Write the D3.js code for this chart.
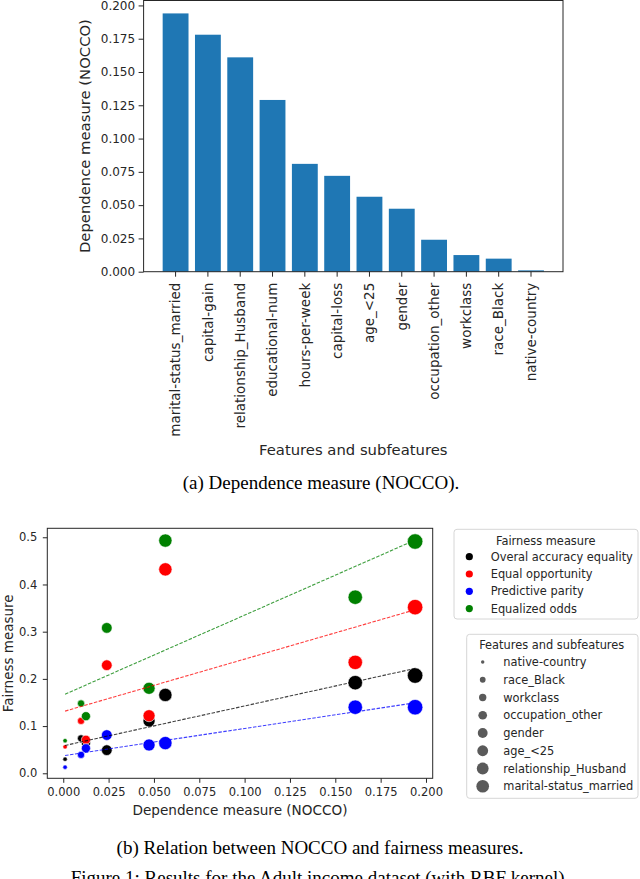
<!DOCTYPE html>
<html><head><meta charset="utf-8">
<script src="https://cdn.jsdelivr.net/npm/d3@7"></script>
<style>body{margin:0;background:#fff} svg{display:block}</style>
</head><body>
<svg id="c" width="640" height="879"></svg>
<script>
// ---------- data ----------
const features = ["marital-status_married","capital-gain","relationship_Husband","educational-num","hours-per-week","capital-loss","age_<25","gender","occupation_other","workclass","race_Black","native-country"];
const nocco = [0.194,0.178,0.161,0.129,0.081,0.072,0.0563,0.0473,0.024,0.0125,0.0098,0.001];
const barTicks = [0,0.025,0.05,0.075,0.1,0.125,0.15,0.175,0.2];

const scatterFeatures = ["native-country","race_Black","workclass","occupation_other","gender","age_<25","relationship_Husband","marital-status_married"];
const scatterX = [0.001,0.0098,0.0125,0.024,0.0473,0.0563,0.161,0.194];
const measures = ["Overal accuracy equality","Equal opportunity","Predictive parity","Equalized odds"];
const accEq   = [0.030,0.074,0.064,0.049,0.111,0.166,0.192,0.207];
const eqOpp   = [0.056,0.111,0.071,0.229,0.122,0.432,0.235,0.352];
const predPar = [0.013,0.039,0.053,0.081,0.060,0.064,0.140,0.140];
const eqOdds  = [0.069,0.148,0.121,0.308,0.180,0.493,0.373,0.491];
const scatterXTicks = [0,0.025,0.05,0.075,0.1,0.125,0.15,0.175,0.2];
const scatterYTicks = [0,0.1,0.2,0.3,0.4,0.5];

const measureColors = ["#000000","#ff0000","#0000ff","#008000"];
const series = [accEq, eqOpp, predPar, eqOdds];

const svg = d3.select("#c");
const SANS = "DejaVu Sans";
const SERIF = "Liberation Serif";

// ---------- (a) bar chart ----------
const bL = 143.6, bR = 563, bT = 0.5, bB = 271.7;
const xb = d3.scaleBand().domain(features).range([bL, bR]).paddingInner(0.2).paddingOuter(0.59);
const yb = d3.scaleLinear().domain([0, 0.2037]).range([bB, bT]);

const gA = svg.append("g");
gA.selectAll("rect.bar").data(features).join("rect")
  .attr("class","bar")
  .attr("x", d => xb(d)).attr("width", xb.bandwidth())
  .attr("y", (d,i) => yb(nocco[i])).attr("height", (d,i) => yb(0) - yb(nocco[i]))
  .attr("fill", "#1f77b4");

const yAxA = gA.append("g").attr("transform", `translate(${bL},0)`)
  .call(d3.axisLeft(yb).tickValues(barTicks).tickFormat(d3.format(".3f")).tickSize(5).tickPadding(3.5));
yAxA.select(".domain").remove();
yAxA.selectAll("text").attr("font-family", SANS).attr("font-size", 12).attr("fill","#262626");
yAxA.selectAll("line").attr("stroke","#262626");

const xAxA = gA.append("g").attr("transform", `translate(0,${bB})`)
  .call(d3.axisBottom(xb).tickSize(5).tickPadding(0));
xAxA.select(".domain").remove();
xAxA.selectAll("line").attr("stroke","#262626");
xAxA.selectAll("text")
  .attr("font-family", SANS).attr("font-size", 13.5).attr("fill","#262626")
  .attr("transform","rotate(-90)")
  .attr("text-anchor","end")
  .attr("x", -11).attr("y", 0).attr("dy","0.35em");

gA.append("rect").attr("x", bL).attr("y", bT).attr("width", bR-bL).attr("height", bB-bT)
  .attr("fill","none").attr("stroke","#262626").attr("stroke-width",1);

gA.append("text").attr("transform", `translate(84,${(bT+bB)/2}) rotate(-90)`)
  .attr("text-anchor","middle").attr("dominant-baseline","central")
  .attr("font-family", SANS).attr("font-size", 14.8).attr("fill","#262626")
  .text("Dependence measure (NOCCO)");
gA.append("text").attr("x", (bL+bR)/2).attr("y", 455)
  .attr("text-anchor","middle").attr("font-family", SANS).attr("font-size", 14.8).attr("fill","#262626")
  .text("Features and subfeatures");

svg.append("text").attr("x", 321).attr("y", 489).attr("text-anchor","middle")
  .attr("font-family", SERIF).attr("font-size", 19).attr("fill","#000")
  .text("(a) Dependence measure (NOCCO).");

// ---------- (b) scatter ----------
const sL = 47.3, sR = 432.7, sT = 528.3, sB = 778.3;
const xs = d3.scaleLinear().domain([-0.0088, 0.2037]).range([sL, sR]);
const ys = d3.scaleLinear().domain([-0.0106, 0.519]).range([sB, sT]);
const plotR = d3.scaleLinear().domain([0, scatterFeatures.length-1]).range([5, 60]);   // area
const legR  = d3.scaleLinear().domain([0, scatterFeatures.length-1]).range([3, 40]);   // area

const gB = svg.append("g");
const xAxB = gB.append("g").attr("transform", `translate(0,${sB})`)
  .call(d3.axisBottom(xs).tickValues(scatterXTicks).tickFormat(d3.format(".3f")).tickSize(4.5).tickPadding(5));
xAxB.select(".domain").remove();
const yAxB = gB.append("g").attr("transform", `translate(${sL},0)`)
  .call(d3.axisLeft(ys).tickValues(scatterYTicks).tickFormat(d3.format(".1f")).tickSize(4.5).tickPadding(5.5));
yAxB.select(".domain").remove();
[xAxB, yAxB].forEach(a => {
  a.selectAll("text").attr("font-family", SANS).attr("font-size", 11.5).attr("fill","#262626");
  a.selectAll("line").attr("stroke","#262626");
});

// points
measures.forEach((m, k) => {
  gB.append("g").selectAll("circle").data(scatterX).join("circle")
    .attr("cx", d => xs(d)).attr("cy", (d,i) => ys(series[k][i]))
    .attr("r", (d,i) => Math.sqrt(plotR(i)))
    .attr("fill", measureColors[k]).attr("stroke","#fff").attr("stroke-width",0.6);
});

// regression lines (least squares on each series)
measures.forEach((m, k) => {
  const ys_ = series[k];
  const mx = d3.mean(scatterX), my = d3.mean(ys_);
  const sxy = d3.sum(scatterX, (x,i) => (x-mx)*(ys_[i]-my));
  const sxx = d3.sum(scatterX, x => (x-mx)*(x-mx));
  const slope = sxy/sxx, icpt = my - slope*mx;
  const x0 = d3.min(scatterX), x1 = d3.max(scatterX);
  gB.append("line")
    .attr("x1", xs(x0)).attr("y1", ys(icpt + slope*x0))
    .attr("x2", xs(x1)).attr("y2", ys(icpt + slope*x1))
    .attr("stroke", measureColors[k]).attr("stroke-width", 1.1)
    .attr("stroke-dasharray","3.5,1.5").attr("opacity",0.75);
});

gB.append("rect").attr("x", sL).attr("y", sT).attr("width", sR-sL).attr("height", sB-sT)
  .attr("fill","none").attr("stroke","#262626").attr("stroke-width",1);

gB.append("text").attr("transform", `translate(8,${(sT+sB)/2}) rotate(-90)`)
  .attr("text-anchor","middle").attr("dominant-baseline","central")
  .attr("font-family", SANS).attr("font-size", 13.5).attr("fill","#262626")
  .text("Fairness measure");
gB.append("text").attr("x", (sL+sR)/2).attr("y", 815)
  .attr("text-anchor","middle").attr("font-family", SANS).attr("font-size", 13.6).attr("fill","#262626")
  .text("Dependence measure (NOCCO)");

// legend 1
const L1 = svg.append("g");
L1.append("rect").attr("x",454).attr("y",529.3).attr("width",184).attr("height",89.7).attr("rx",3)
  .attr("fill","#fff").attr("stroke","#d6d6d6");
L1.append("text").attr("x",545.7).attr("y",540.5).attr("text-anchor","middle").attr("dominant-baseline","central")
  .attr("font-family",SANS).attr("font-size",11.4).attr("fill","#262626").text("Fairness measure");
measures.forEach((m,k) => {
  const cy = 556.7 + k*17.3;
  L1.append("circle").attr("cx",469.3).attr("cy",cy).attr("r",3.6).attr("fill",measureColors[k]);
  L1.append("text").attr("x",490.7).attr("y",cy).attr("dominant-baseline","central")
    .attr("font-family",SANS).attr("font-size",11.4).attr("fill","#262626").text(m);
});

// legend 2
const L2 = svg.append("g");
L2.append("rect").attr("x",466.7).attr("y",634.3).attr("width",171.3).attr("height",164).attr("rx",3)
  .attr("fill","#fff").attr("stroke","#d6d6d6");
L2.append("text").attr("x",551.7).attr("y",644.5).attr("text-anchor","middle").attr("dominant-baseline","central")
  .attr("font-family",SANS).attr("font-size",11.4).attr("fill","#262626").text("Features and subfeatures");
scatterFeatures.forEach((f,i) => {
  const cy = 662 + i*17.75;
  L2.append("circle").attr("cx",482.7).attr("cy",cy).attr("r",Math.sqrt(legR(i))).attr("fill","#5a5a5a");
  L2.append("text").attr("x",503.3).attr("y",cy).attr("dominant-baseline","central")
    .attr("font-family",SANS).attr("font-size",11.4).attr("fill","#262626").text(f);
});

svg.append("text").attr("x", 320).attr("y", 854).attr("text-anchor","middle")
  .attr("font-family", SERIF).attr("font-size", 19).attr("fill","#000")
  .text("(b) Relation between NOCCO and fairness measures.");
svg.append("text").attr("x", 320).attr("y", 884).attr("text-anchor","middle")
  .attr("font-family", SERIF).attr("font-size", 19).attr("fill","#000")
  .text("Figure 1: Results for the Adult income dataset (with RBF kernel).");
</script>
</body></html>
